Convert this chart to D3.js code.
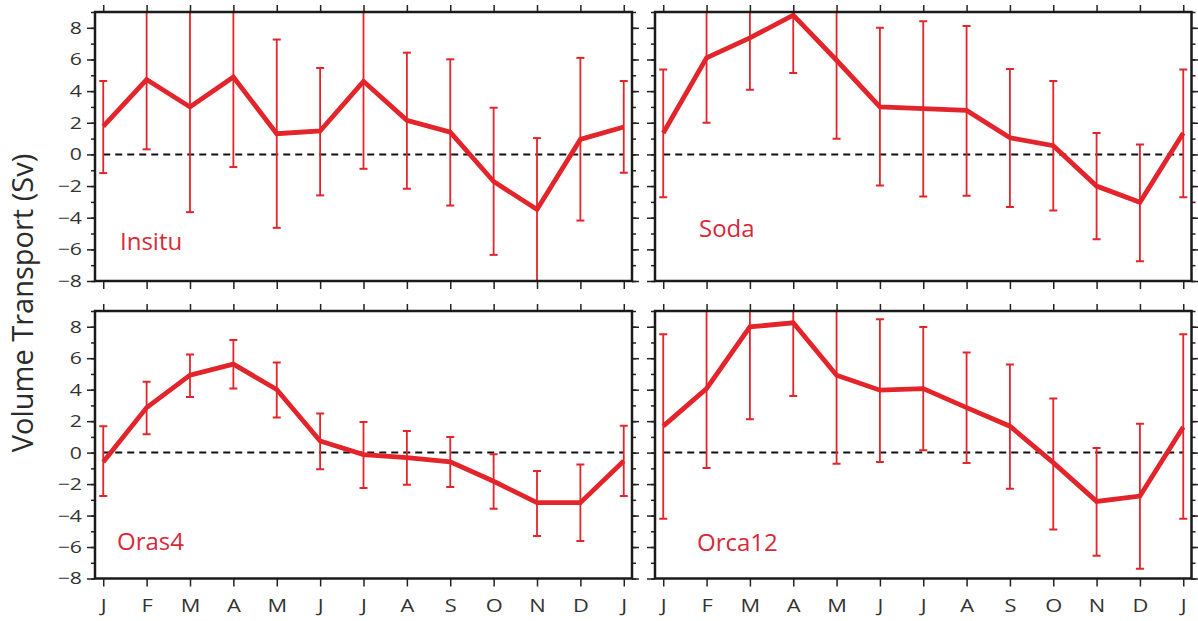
<!DOCTYPE html>
<html>
<head>
<meta charset="utf-8">
<script src="https://cdn.jsdelivr.net/npm/d3@7"></script>
<style>
  body { margin: 0; background: #fff; }
  svg text { font-family: "Open Sans", "Noto Sans", sans-serif; }
</style>
</head>
<body>
<div id="viz_area"></div>
<script>
// month labels (Jan .. Jan)
var months = ["J", "F", "M", "A", "M", "J", "J", "A", "S", "O", "N", "D", "J"];
var yTicks = [-8, -6, -4, -2, 0, 2, 4, 6, 8];

// Insitu
var insituMean  = [1.77, 4.73, 3.00, 4.89, 1.31, 1.48, 4.62, 2.15, 1.41, -1.71, -3.48, 0.95, 1.73];
var insituUpper = [4.64, 9.14, 9.65, 10.58, 7.26, 5.46, 10.15, 6.43, 6.01, 2.95, 1.03, 6.10, 4.64];
var insituLower = [-1.18, 0.32, -3.65, -0.80, -4.64, -2.59, -0.91, -2.17, -3.23, -6.35, -8.10, -4.18, -1.16];

// Soda
var sodaMean  = [1.35, 6.10, 7.36, 8.80, 5.95, 3.00, 2.89, 2.78, 1.05, 0.55, -2.00, -3.02, 1.35];
var sodaUpper = [5.36, 10.20, 10.63, 12.45, 10.90, 8.00, 8.42, 8.12, 5.40, 4.64, 1.35, 0.63, 5.36];
var sodaLower = [-2.70, 2.00, 4.09, 5.15, 0.99, -1.96, -2.66, -2.62, -3.33, -3.54, -5.36, -6.75, -2.70];

// Oras4
var orasMean  = [-0.59, 2.86, 4.92, 5.62, 4.01, 0.74, -0.13, -0.32, -0.59, -1.82, -3.18, -3.18, -0.53];
var orasUpper = [1.68, 4.50, 6.23, 7.15, 5.73, 2.48, 1.95, 1.38, 1.00, -0.11, -1.17, -0.76, 1.70];
var orasLower = [-2.76, 1.17, 3.54, 4.07, 2.23, -1.06, -2.25, -2.04, -2.18, -3.56, -5.30, -5.62, -2.76];

// Orca12
var orcaMean  = [1.68, 4.07, 7.99, 8.25, 4.92, 3.97, 4.07, 2.86, 1.68, -0.64, -3.10, -2.76, 1.63];
var orcaUpper = [7.53, 9.12, 13.86, 12.90, 10.50, 8.48, 7.99, 6.36, 5.60, 3.44, 0.30, 1.84, 7.53];
var orcaLower = [-4.20, -0.98, 2.12, 3.60, -0.70, -0.59, 0.15, -0.66, -2.29, -4.88, -6.55, -7.38, -4.20];

var panels = [
  { name: "Insitu", mean: insituMean, upper: insituUpper, lower: insituLower, x0: 95,  x1: 632,    y0: 12,  y1: 281,   lx: 120, ly: 250, left: true,  bottom: false },
  { name: "Soda",   mean: sodaMean,   upper: sodaUpper,   lower: sodaLower,   x0: 655, x1: 1191.5, y0: 12,  y1: 281,   lx: 699, ly: 237, left: false, bottom: false },
  { name: "Oras4",  mean: orasMean,   upper: orasUpper,   lower: orasLower,   x0: 95,  x1: 632,    y0: 311, y1: 578.5, lx: 117, ly: 550, left: true,  bottom: true },
  { name: "Orca12", mean: orcaMean,   upper: orcaUpper,   lower: orcaLower,   x0: 655, x1: 1191.5, y0: 311, y1: 578.5, lx: 697, ly: 551, left: false, bottom: true }
];

function __init__() {
    var w = 1198;
    var h = 621;
    var red = "#e3242b";

    var svg = d3.select("#viz_area")
                .append("svg")
                .attr("width", w)
                .attr("height", h);

    // y axis title
    svg.append("text")
       .attr("transform", "translate(33,303) rotate(-90)")
       .attr("text-anchor", "middle")
       .attr("font-size", 29)
       .attr("fill", "#2b2b2b")
       .text("Volume Transport (Sv)");

    panels.forEach(function(p, i) {
        var x = d3.scaleLinear().domain([-0.19, 12.19]).range([p.x0, p.x1]);
        var y = d3.scaleLinear().domain([-8, 9]).range([p.y1, p.y0]);
        var idx = d3.range(months.length);

        var g = svg.append("g");

        // clip to the frame
        svg.append("clipPath").attr("id", "clip" + i)
           .append("rect")
           .attr("x", p.x0).attr("y", p.y0)
           .attr("width", p.x1 - p.x0).attr("height", p.y1 - p.y0);

        // axes: left (major + minor), right, top, bottom
        var minorVals = d3.range(-8, 10, 1);
        var axes = [
          [d3.axisLeft(y).tickValues(minorVals).tickSize(4).tickFormat(""), "translate(" + p.x0 + ",0)", 0],
          [d3.axisLeft(y).tickValues(yTicks).tickSize(8).tickPadding(5)
             .tickFormat(p.left ? d3.format("d") : ""), "translate(" + p.x0 + ",0)", 17],
          [d3.axisRight(y).tickValues(minorVals).tickSize(4).tickFormat(""), "translate(" + p.x1 + ",0)", 0],
          [d3.axisRight(y).tickValues(yTicks).tickSize(7).tickFormat(""), "translate(" + p.x1 + ",0)", 0],
          [d3.axisTop(x).tickValues(idx).tickSize(7).tickFormat(""), "translate(0," + p.y0 + ")", 0],
          [d3.axisBottom(x).tickValues(idx).tickSize(8).tickPadding(12)
             .tickFormat(p.bottom ? function(d) { return months[d]; } : ""), "translate(0," + p.y1 + ")", 19]
        ];

        axes.forEach(function(a) {
            var ax = g.append("g").attr("transform", a[1]).call(a[0]);
            ax.attr("font-family", null).attr("font-size", null);
            ax.select(".domain").remove();
            ax.selectAll("line").attr("stroke", "#222").attr("stroke-width", 1.5);
            ax.selectAll("text").attr("fill", "#333").attr("font-size", a[2]);
        });

        // the original lettering is a bit wider than Open Sans: stretch tick labels
        g.selectAll(".tick text").each(function() {
            var t = d3.select(this);
            var tx = +t.attr("x") || 0, ty = +t.attr("y") || 0;
            var sx = (ty !== 0) ? 1.15 : 1.25;
            t.attr("x", 0).attr("y", 0)
             .attr("transform", "translate(" + tx + "," + ty + ") scale(" + sx + ",1)");
        });

        var inner = g.append("g").attr("clip-path", "url(#clip" + i + ")");

        // zero line
        inner.append("line")
             .attr("x1", x(0)).attr("x2", x(12))
             .attr("y1", y(0)).attr("y2", y(0))
             .attr("stroke", "#111")
             .attr("stroke-width", 2)
             .attr("stroke-dasharray", "7,5");

        // error bars
        var bars = inner.selectAll(".err")
             .data(idx)
             .enter()
             .append("g")
             .attr("class", "err");
        bars.append("line")
            .attr("x1", (d) => x(d)).attr("x2", (d) => x(d))
            .attr("y1", (d) => y(p.upper[d])).attr("y2", (d) => y(p.lower[d]))
            .attr("stroke", red).attr("stroke-width", 1.8);
        bars.append("line")
            .attr("x1", (d) => x(d) - 4).attr("x2", (d) => x(d) + 4)
            .attr("y1", (d) => y(p.upper[d])).attr("y2", (d) => y(p.upper[d]))
            .attr("stroke", red).attr("stroke-width", 2);
        bars.append("line")
            .attr("x1", (d) => x(d) - 4).attr("x2", (d) => x(d) + 4)
            .attr("y1", (d) => y(p.lower[d])).attr("y2", (d) => y(p.lower[d]))
            .attr("stroke", red).attr("stroke-width", 2);

        // mean line
        var line = d3.line().x((d) => x(d)).y((d) => y(p.mean[d]));
        inner.append("path")
             .datum(idx)
             .attr("d", line)
             .attr("fill", "none")
             .attr("stroke", red)
             .attr("stroke-width", 4.8)
             .attr("stroke-linejoin", "miter");

        // frame
        g.append("rect")
         .attr("x", p.x0).attr("y", p.y0)
         .attr("width", p.x1 - p.x0).attr("height", p.y1 - p.y0)
         .attr("fill", "none")
         .attr("stroke", "#1a1a1a")
         .attr("stroke-width", 2.5);

        // panel name
        g.append("text")
         .attr("x", p.lx).attr("y", p.ly)
         .attr("font-size", 24)
         .attr("fill", "#d62a3a")
         .text(p.name);
    });
}

window.onload = __init__;
</script>
</body>
</html>
